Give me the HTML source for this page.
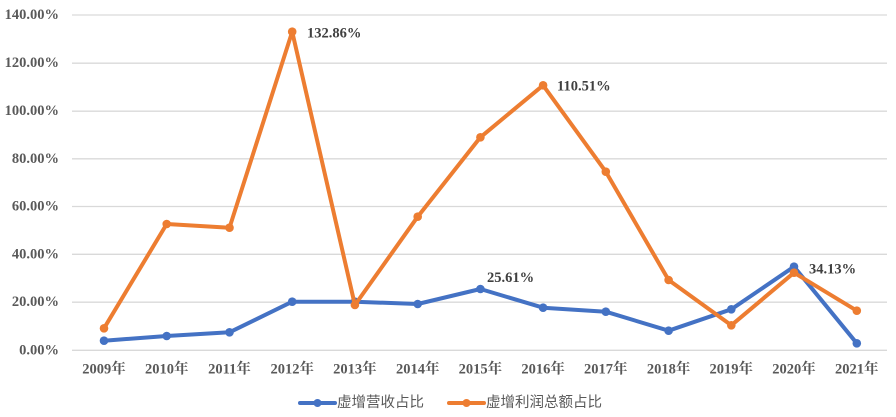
<!DOCTYPE html>
<html><head><meta charset="utf-8"><style>
html,body{margin:0;padding:0;background:#fff;}
svg{display:block;}
.yl{font-family:"Liberation Serif","Noto Serif CJK SC",serif;font-weight:bold;font-size:14.5px;fill:#595959;}
.xl{font-family:"Liberation Serif","Noto Serif CJK SC",serif;font-weight:bold;font-size:14.5px;fill:#595959;}
.dl{font-family:"Liberation Serif",serif;font-weight:bold;font-size:14.5px;fill:#404040;}
.lg{font-family:"Liberation Sans","Noto Sans CJK SC",sans-serif;font-size:14.5px;fill:#595959;}
</style></head><body>
<svg width="896" height="417" viewBox="0 0 896 417" xmlns="http://www.w3.org/2000/svg">
<rect width="896" height="417" fill="#fff"/>
<g stroke="#d9d9d9" stroke-width="1.3">
<line x1="72" x2="887" y1="15" y2="15"/>
<line x1="72" x2="887" y1="63.2" y2="63.2"/>
<line x1="72" x2="887" y1="111.2" y2="111.2"/>
<line x1="72" x2="887" y1="158.8" y2="158.8"/>
<line x1="72" x2="887" y1="206.5" y2="206.5"/>
<line x1="72" x2="887" y1="254.3" y2="254.3"/>
<line x1="72" x2="887" y1="302.2" y2="302.2"/>
<line x1="72" x2="887" y1="350.3" y2="350.3"/>
</g>
<g class="yl" text-anchor="end" dominant-baseline="central">
<text x="59" y="15">140.00%</text>
<text x="59" y="63.2">120.00%</text>
<text x="59" y="111.2">100.00%</text>
<text x="59" y="158.8">80.00%</text>
<text x="59" y="206.5">60.00%</text>
<text x="59" y="254.3">40.00%</text>
<text x="59" y="302.2">20.00%</text>
<text x="59" y="350.3">0.00%</text>
</g>
<g class="xl" text-anchor="middle" dominant-baseline="central">
<text x="104" y="369.5">2009年</text>
<text x="166.7" y="369.5">2010年</text>
<text x="229.5" y="369.5">2011年</text>
<text x="292.2" y="369.5">2012年</text>
<text x="354.9" y="369.5">2013年</text>
<text x="417.7" y="369.5">2014年</text>
<text x="480.4" y="369.5">2015年</text>
<text x="543.1" y="369.5">2016年</text>
<text x="605.8" y="369.5">2017年</text>
<text x="668.6" y="369.5">2018年</text>
<text x="731.3" y="369.5">2019年</text>
<text x="794" y="369.5">2020年</text>
<text x="856.8" y="369.5">2021年</text>
</g>
<!-- blue series -->
<polyline fill="none" stroke="#4472C4" stroke-width="4" stroke-linejoin="round" stroke-linecap="round"
points="104,340.7 166.7,336 229.5,332.3 292.2,301.7 354.9,301.7 417.7,304 480.4,289 543.1,307.7 605.8,311.7 668.6,330.7 731.3,309.3 794,266.7 856.8,343.3"/>
<g fill="#4472C4">
<circle cx="104" cy="340.7" r="4.3"/><circle cx="166.7" cy="336" r="4.3"/><circle cx="229.5" cy="332.3" r="4.3"/>
<circle cx="292.2" cy="301.7" r="4.3"/><circle cx="354.9" cy="301.7" r="4.3"/><circle cx="417.7" cy="304" r="4.3"/>
<circle cx="480.4" cy="289" r="4.3"/><circle cx="543.1" cy="307.7" r="4.3"/><circle cx="605.8" cy="311.7" r="4.3"/>
<circle cx="668.6" cy="330.7" r="4.3"/><circle cx="731.3" cy="309.3" r="4.3"/><circle cx="794" cy="266.7" r="4.3"/>
<circle cx="856.8" cy="343.3" r="4.3"/>
</g>
<!-- orange series -->
<polyline fill="none" stroke="#ED7D31" stroke-width="4" stroke-linejoin="round" stroke-linecap="round"
points="104,328.3 166.7,224 229.5,227.7 292.2,31.7 354.9,305 417.7,216.7 480.4,137.3 543.1,85.3 605.8,171.7 668.6,280 731.3,325.3 794,272.7 856.8,310.7"/>
<g fill="#ED7D31">
<circle cx="104" cy="328.3" r="4.3"/><circle cx="166.7" cy="224" r="4.3"/><circle cx="229.5" cy="227.7" r="4.3"/>
<circle cx="292.2" cy="31.7" r="4.3"/><circle cx="354.9" cy="305" r="4.3"/><circle cx="417.7" cy="216.7" r="4.3"/>
<circle cx="480.4" cy="137.3" r="4.3"/><circle cx="543.1" cy="85.3" r="4.3"/><circle cx="605.8" cy="171.7" r="4.3"/>
<circle cx="668.6" cy="280" r="4.3"/><circle cx="731.3" cy="325.3" r="4.3"/><circle cx="794" cy="272.7" r="4.3"/>
<circle cx="856.8" cy="310.7" r="4.3"/>
</g>
<g class="dl" dominant-baseline="central">
<text x="307" y="33.5">132.86%</text>
<text x="557" y="86.5">110.51%</text>
<text x="487" y="278">25.61%</text>
<text x="809" y="269.5">34.13%</text>
</g>
<!-- legend -->
<line x1="300" x2="335" y1="403" y2="403" stroke="#4472C4" stroke-width="4" stroke-linecap="round"/>
<circle cx="317.5" cy="403" r="4" fill="#4472C4"/>
<text class="lg" x="337" y="403" dominant-baseline="central">虚增营收占比</text>
<line x1="449" x2="484" y1="403" y2="403" stroke="#ED7D31" stroke-width="4" stroke-linecap="round"/>
<circle cx="466.5" cy="403" r="4" fill="#ED7D31"/>
<text class="lg" x="486" y="403" dominant-baseline="central">虚增利润总额占比</text>
</svg>
</body></html>
